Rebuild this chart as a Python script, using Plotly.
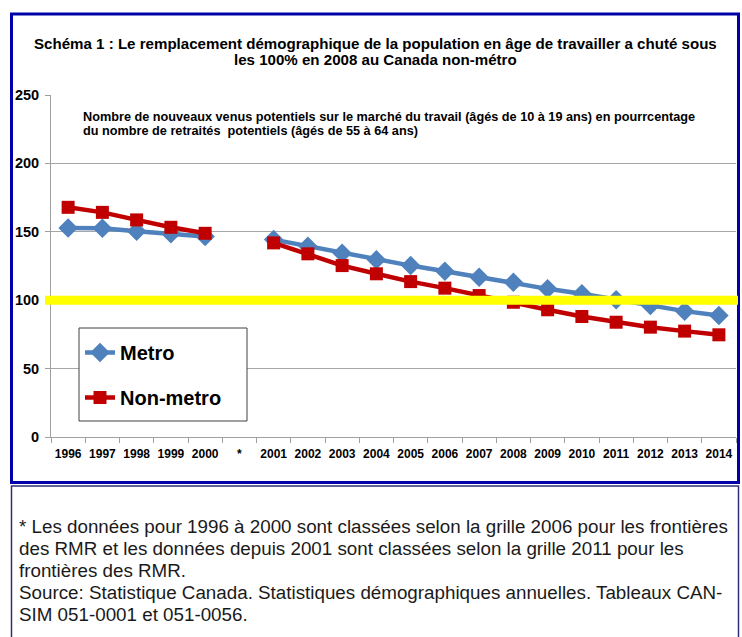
import plotly.graph_objects as go

categories = ["1996", "1997", "1998", "1999", "2000", "*", "2001", "2002", "2003",
              "2004", "2005", "2006", "2007", "2008", "2009", "2010", "2011", "2012",
              "2013", "2014"]
metro = [152.8, 152.6, 150.4, 148.5, 146.5, None, 144.3, 139.4, 134.3, 129.5, 125.3,
         121.2, 116.8, 113.1, 108.3, 104.7, 100.3, 96.1, 92.0, 88.8]
non_metro = [167.9, 164.2, 158.7, 153.3, 148.9, None, 141.9, 133.9, 125.3, 119.3, 113.6,
             108.8, 103.4, 98.5, 93.0, 88.1, 83.9, 80.3, 77.4, 74.7]
y_ticks = [0, 50, 100, 150, 200, 250]
threshold = 100

title_lines = ["Schéma 1 : Le remplacement démographique de la population en âge de travailler a chuté sous",
               "les 100% en 2008 au Canada non-métro"]
subtitle_lines = ["Nombre de nouveaux venus potentiels sur le marché du travail (âgés de 10 à 19 ans) en pourrcentage",
                  "du nombre de retraités  potentiels (âgés de 55 à 64 ans)"]
note_lines = ["* Les données pour 1996 à 2000 sont classées selon la grille 2006 pour les frontières",
              "des RMR et les données depuis 2001 sont classées selon la grille 2011 pour les",
              "frontières des RMR.",
              "Source: Statistique Canada. Statistiques démographiques annuelles. Tableaux CAN-",
              "SIM 051-0001 et 051-0056."]

W, H = 742, 637
L, R, T, B = 51, 736, 95, 437


def px(x):
    return (x - L) / (R - L)


def py(y):
    return (B - y) / (B - T)


FONT = "Liberation Sans, Arial, sans-serif"

fig = go.Figure()
fig.add_trace(go.Scatter(
    x=categories, y=metro, name="Metro", mode="lines+markers",
    line=dict(color="#4F81BD", width=4.5),
    marker=dict(symbol="diamond", size=15, color="#4F81BD"),
    connectgaps=False, legendgroup="a",
))
fig.add_trace(go.Scatter(
    x=categories, y=non_metro, name="Non-metro", mode="lines+markers",
    line=dict(color="#C00000", width=4.5),
    marker=dict(symbol="square", size=13, color="#C00000"),
    connectgaps=False, legendgroup="b",
))

shapes = [
    # outer chart box
    dict(type="rect", xref="paper", yref="paper", x0=px(11.5), x1=px(738.5), y0=py(482.5), y1=py(14),
         line=dict(color="#0000A8", width=3), layer="below"),
    # footnote box
    dict(type="rect", xref="paper", yref="paper", x0=px(11.5), x1=px(738.5), y0=py(645), y1=py(486),
         line=dict(color="#303070", width=1.5), layer="below"),
    # legend box
    dict(type="rect", xref="paper", yref="paper", x0=px(79), x1=px(247), y0=py(421), y1=py(328),
         line=dict(color="#404040", width=1), fillcolor="white", layer="above"),
    # threshold line
    dict(type="line", xref="paper", yref="y", x0=px(45), x1=px(738), y0=threshold, y1=threshold,
         line=dict(color="#FFFF00", width=9), layer="above"),
]

annotations = []
for text, yc in zip(title_lines, [44, 60]):
    annotations.append(dict(text=text, xref="paper", yref="paper", x=px(375.5), y=py(yc),
                            xanchor="center", yanchor="middle", showarrow=False,
                            font=dict(family=FONT, size=15.1, color="black", weight="bold")))
for text, yc in zip(subtitle_lines, [116.5, 130.5]):
    annotations.append(dict(text=text, xref="paper", yref="paper", x=px(81), y=py(yc),
                            xanchor="left", yanchor="middle", showarrow=False,
                            font=dict(family=FONT, size=12.7, color="black", weight="bold")))
for text, yc in zip(note_lines, [526, 548, 570, 592, 614]):
    annotations.append(dict(text=text, xref="paper", yref="paper", x=px(17), y=py(yc),
                            xanchor="left", yanchor="middle", showarrow=False,
                            font=dict(family=FONT, size=18.8, color="#1a1a1a")))

fig.update_layout(
    width=W, height=H,
    margin=dict(l=L, r=W - R, t=T, b=H - B, pad=0),
    paper_bgcolor="white", plot_bgcolor="white",
    font=dict(family=FONT, color="black"),
    shapes=shapes, annotations=annotations,
    showlegend=True,
    legend=dict(x=px(80), y=py(333), xanchor="left", yanchor="top",
                bgcolor="rgba(0,0,0,0)", borderwidth=0,
                font=dict(family=FONT, size=20, color="black", weight="bold"),
                traceorder="grouped", tracegroupgap=16, itemwidth=30),
    xaxis=dict(type="category", categoryorder="array", categoryarray=categories,
               showgrid=False, showline=True, linecolor="#A0A0A0", linewidth=1,
               ticks="outside", tickson="boundaries", ticklen=5, tickcolor="#A0A0A0",
               tickangle=0, ticklabelstandoff=6,
               tickfont=dict(family=FONT, size=12, color="black", weight="bold"),
               range=[-0.5, len(categories) - 0.5], fixedrange=True),
    yaxis=dict(range=[0, 250], tickvals=y_ticks, showgrid=True, gridcolor="#A6A6A6",
               gridwidth=1, showline=True, linecolor="#A0A0A0", linewidth=1,
               ticks="outside", ticklen=5, tickcolor="#A0A0A0", zeroline=False,
               tickfont=dict(family=FONT, size=14.5, color="black", weight="bold"),
               ticklabelstandoff=3, fixedrange=True),
)

fig.write_html("out.html", config={"displayModeBar": False},
               post_script="document.body.style.margin='0';")
